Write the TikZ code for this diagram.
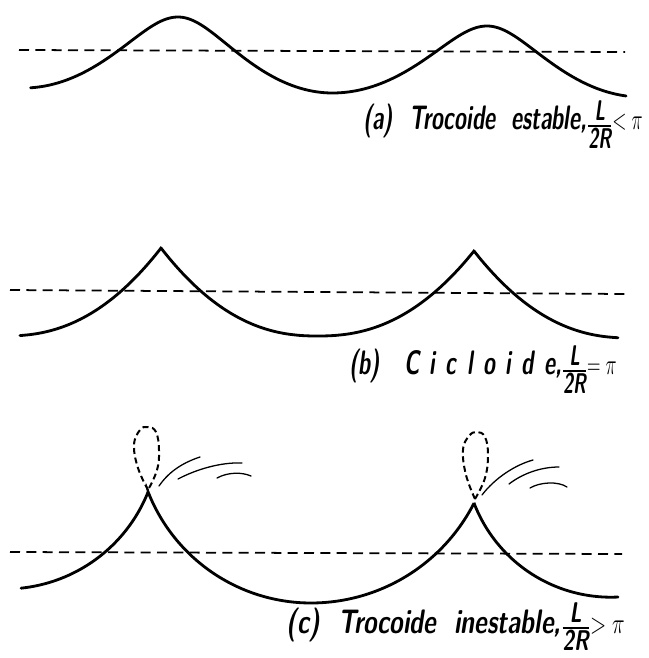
\documentclass[tikz,border=0pt]{standalone}
\usepackage{amsmath}
\usepackage{fontspec}
\usepackage{tikz}
\newcommand{\capbox}[2][0.64]{\scalebox{#1}[1]{#2}}
\newcommand{\lfrac}[1][-1.7mm]{\raisebox{#1}{\scalebox{1.2}{$\frac{\text{L}}{\text{2R}}$}}}

\begin{document}
\begin{tikzpicture}[
  x=0.3mm,y=-0.3mm,
  declare function={bump(\s,\p)=1-pow(1-abs(\s),\p);},
  wave/.style={line width=2.4pt, line cap=round, line join=round, samples=50, smooth},
  cusp/.style={line width=2.4pt, line cap=round, line join=miter, samples=60, smooth},
  level/.style={line width=1.5pt, dash pattern=on 3mm off 1.9mm},
  loopd/.style={line width=1.7pt, dash pattern=on 1.8mm off 1.1mm},
  spray/.style={line width=1.1pt, line cap=round},
  caption/.style={anchor=base east, inner sep=0pt, font=\fontsize{29}{32}\selectfont\sffamily\bfseries\itshape}
]
\useasboundingbox (0,0) rectangle (649,658);
% (a)
\draw[level] (19,50) -- (625,52);
\draw[wave] plot[domain=-3.03:0] ({178+49.2*\x-15*sin(\x r)},{52.5-35.5*cos(\x r)})
  -- plot[domain=0.01:3.1416] ({178+49.2*\x-15*sin(\x r)},{55-38*cos(\x r)})
  -- plot[domain=-3.1416:0] ({487+49.2*\x-15*sin(\x r)},{59.5-33.5*cos(\x r)})
  -- plot[domain=0.01:2.9] ({487+49.2*\x-15*sin(\x r)},{61.5-35.5*cos(\x r)});
\node[caption] (capa) at (643,129) {\capbox{(a)\ \ Trocoide\ \ estable,\lfrac$<\pi$}};
% (b)
\draw[level] (10,290) -- (625,294);
\draw[cusp] plot[domain=-0.901:0] ({161+156.5*\x},{248+88*bump(\x,2.29)})
  -- plot[domain=0.003:0.999] ({161+156.5*\x},{248+88*bump(\x,2.29)})
  -- plot[domain=-0.999:0] ({474+156.5*\x},{251+85*bump(\x,2.29)})
  -- plot[domain=0.003:0.92] ({474+156.5*\x},{251+87*bump(\x,2.29)});
\node[caption] (capb) at (617,374) {\capbox{(b)\ \ \ C\kern14pt i\kern14pt c\kern14pt l\kern14pt o\kern14pt i\kern14pt d\kern14pt e,\lfrac$=\pi$}};
% (c)
\draw[level] (10,552) -- (622,554);
\draw[cusp] plot[domain=84:21.7] ({5+154*cos(\x)},{435+154*sin(\x)})
  -- plot[domain=158.6:90] ({311+175*cos(\x)},{428+175*sin(\x)})
  -- plot[domain=90:27] ({311+183*cos(\x)},{420+183*sin(\x)})
  -- plot[domain=159.1:87.2] ({610.9+146.6*cos(\x)},{450.6+146.6*sin(\x)});
\draw[loopd] plot[smooth, tension=0.7] coordinates {(148,490) (138,468) (134,445) (140,430) (148,427) (156,432) (159,450) (157,470) (148,490)};
\draw[loopd] plot[smooth, tension=0.7] coordinates {(475,499) (466,475) (463,450) (469,436) (477,432) (485,437) (488,455) (485,478) (475,499)};
\draw[spray] (159,486) .. controls (170,470) and (185,462) .. (200,457);
\draw[spray] (178,479) .. controls (195,470) and (220,462) .. (242,463);
\draw[spray] (217,478) .. controls (228,472) and (242,472) .. (251,476);
\draw[spray] (482,495) .. controls (495,478) and (515,465) .. (533,460);
\draw[spray] (509,484) .. controls (522,474) and (540,467) .. (559,467);
\draw[spray] (530,488) .. controls (540,482) and (558,481) .. (567,487);
\node[caption] (capc) at (625,633) {\capbox[0.73]{(c)\ \ Trocoide\ \ inestable,\lfrac[-1.1mm]$>\pi$}};
\end{tikzpicture}
\end{document}
